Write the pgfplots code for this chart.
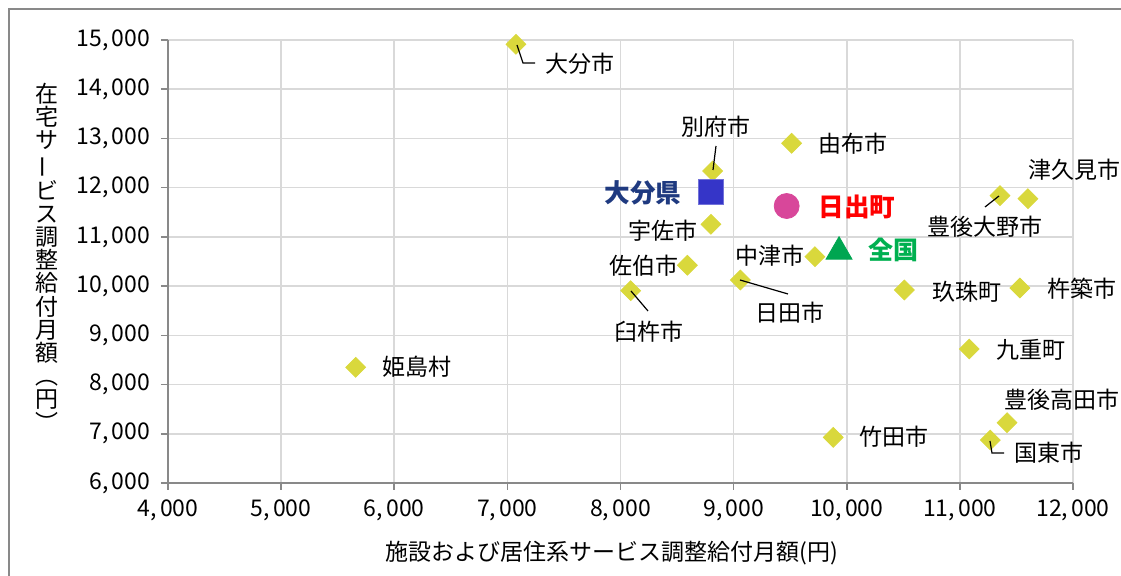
\documentclass[border=0pt]{standalone}
\usepackage{pgfplots}
\pgfplotsset{compat=1.18}
\usepackage{pgfplotstable}
\usepackage{graphicx}
\usepackage{fontspec}
\setmainfont{Noto Sans CJK JP}
\definecolor{yl}{HTML}{D9D83C}
\definecolor{axgray}{HTML}{898989}
\definecolor{gridgray}{HTML}{D9D9D9}
\definecolor{sqblue}{HTML}{3535C8}
\definecolor{cpink}{HTML}{D8479A}
\definecolor{tgreen}{HTML}{00A651}
\definecolor{navy}{HTML}{1F3A80}
\definecolor{lgreen}{HTML}{00B050}
\pgfplotstableread{
x y
7076 14913
8815 12338
9513 12901
8800 11256
9719 10597
8591 10423
9059 10124
8090 9907
11355 11837
11602 11776
10509 9921
11531 9961
11083 8722
11417 7225
11269 6873
5659 8350
9881 6928
}\cities
\begin{document}
\fontsize{11.5}{13.8}\selectfont
\begin{tikzpicture}
\begin{axis}[
  at={(0,0)}, anchor=south west,
  scale only axis, width=452.5pt, height=221.5pt,
  xmin=4000, xmax=12000, ymin=6000, ymax=15000,
  xtick={4000,5000,...,12000}, ytick={6000,7000,...,15000},
  scaled ticks=false,
  axis x line=bottom, axis y line=left,
  axis line style={-, draw=axgray, line width=1pt},
  grid=major, major grid style={draw=gridgray, line width=0.8pt},
  tick align=outside, major tick length=3.5pt,
  tick style={draw=axgray, line width=0.8pt},
  /pgf/number format/fixed,
  /pgf/number format/1000 sep={,\kern1.6pt},
  /pgf/number format/assume math mode=true,
  ticklabel style={font=\fontsize{11.5}{13}\selectfont},
  yticklabel style={xshift=-1.5pt},
  xticklabel style={yshift=-1pt},
  clip=false,
]
\addplot[only marks, mark=square*, mark size=3.5pt,
  mark options={rotate=45, fill=yl, draw=yl}] table {\cities};
\addplot[only marks, mark=square*, mark size=6.25pt,
  mark options={fill=sqblue, draw=sqblue!70!white, line width=0.5pt}] coordinates {(8804,11916)};
\addplot[only marks, mark=*, mark size=6.25pt,
  mark options={fill=cpink, draw=cpink}] coordinates {(9469,11627)};
\addplot[only marks, mark=triangle*, mark size=7.5pt,
  mark options={fill=tgreen, draw=tgreen}] coordinates {(9932,10699)};
\end{axis}
\begin{scope}[shift={(-84pt,241.5pt)}, x=0.5pt, y=-0.5pt]
\path[use as bounding box] (0,0) rectangle (1121,576);
\draw[axgray, line width=1pt] (9,576) -- (9,9) -- (1121,9);
% leader lines
\begin{scope}[black, line width=0.6pt]
\draw (517,45) -- (523,63) -- (535,63);
\draw (716,146) -- (713,170);
\draw (740,280) -- (788,294);
\draw (631,291) -- (648,311);
\draw (985,207) -- (999,196);
\draw (990,441) -- (992,453) -- (1004,453);
\end{scope}
\begin{scope}[every node/.style={inner sep=0pt, font=\fontsize{11.5}{13}\selectfont}]
\node at (580,64) {大分市};
\node at (716,127) {別府市};
\node at (853,144) {由布市};
\node at (663,231) {宇佐市};
\node at (770,256) {中津市};
\node at (644,266) {佐伯市};
\node at (790,313) {日田市};
\node at (649,332) {臼杵市};
\node at (985,227) {豊後大野市};
\node at (1074,170) {津久見市};
\node at (967,292) {玖珠町};
\node at (1082,289) {杵築市};
\node at (1031,350) {九重町};
\node at (1062,400) {豊後高田市};
\node at (1049,453) {国東市};
\node at (417,367) {姫島村};
\node at (894,437) {竹田市};
\node at (612,553) {施設および居住系サービス調整給付月額(円)};
\node[align=center, font=\fontsize{11.5}{11.6}\selectfont] at (47,257)
 {在\\宅\\サ\\\rotatebox[origin=c]{90}{ー}\\ビ\\ス\\調\\整\\給\\付\\月\\額\\︵\\円\\︶};
\end{scope}
\node[inner sep=0pt, font=\fontsize{12.8}{14}\selectfont\bfseries, text=navy] at (643,193) {大分県};
\node[inner sep=0pt, font=\fontsize{12.8}{14}\selectfont\bfseries, text=red] at (857,207) {日出町};
\node[inner sep=0pt, font=\fontsize{12.5}{14}\selectfont\bfseries, text=lgreen] at (893,250) {全国};
\end{scope}
\end{tikzpicture}
\end{document}
